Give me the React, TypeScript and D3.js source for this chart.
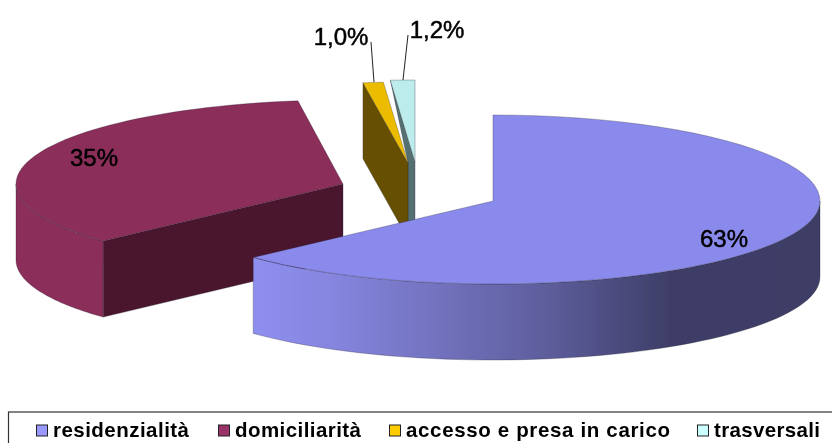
import React, { useEffect, useRef } from "react";
import * as d3 from "d3";

const categories = ["residenzialità", "domiciliarità", "accesso e presa in carico", "trasversali"];
const values = [63.1, 34.7, 1.0, 1.2];
const valueLabels = ["63%", "35%", "1,0%", "1,2%"];
const legendColors = ["#9999FF", "#993366", "#FFCC00", "#CCFFFF"];
const topColors = ["#8A8AEC", "#8B2D5A", "#EBBC00", "#BCECEC"];
const cutColors = ["#3A3A68", "#4A152F", "#665000", "#557070"];

const width = 832;
const height = 443;
const rx = 327;
const depth = 76;
// exploded position of each slice
const centers = [
  { x: 493, y: 201, ryTop: 86, ryBottom: 83 },
  { x: 343, y: 184, ryTop: 84, ryBottom: 84 },
  { x: 408, y: 163, ryTop: 81, ryBottom: 81 },
  { x: 415, y: 162, ryTop: 82, ryBottom: 82 },
];
const labelPos = [
  { x: 724, y: 247 },
  { x: 94, y: 166 },
  { x: 341, y: 45 },
  { x: 437, y: 38 },
];
const leaders = [
  null,
  null,
  [[371, 42], [374, 82]],
  [[408, 35], [403, 80]],
];
const legendX = [36, 218, 389, 697];
const legendTextLen = [136, 126, 264, 106];

const App = () => {
  const ref = useRef<SVGSVGElement>(null);

  useEffect(() => {
    const svg = d3.select(ref.current);
    svg.selectAll("*").remove();

    const arcs = d3.pie<number>().sort(null).value((d) => d)(values);

    const defs = svg.append("defs");
    const grad = defs
      .append("linearGradient")
      .attr("id", "blueWall")
      .attr("gradientUnits", "userSpaceOnUse")
      .attr("x1", 254)
      .attr("x2", 820)
      .attr("y1", 0)
      .attr("y2", 0);
    grad.append("stop").attr("offset", 0).attr("stop-color", "#8E8EEE");
    grad.append("stop").attr("offset", 0.13).attr("stop-color", "#8686E0");
    grad.append("stop").attr("offset", 0.505).attr("stop-color", "#5F5F9F");
    grad.append("stop").attr("offset", 0.735).attr("stop-color", "#3E3E68");
    grad.append("stop").attr("offset", 1).attr("stop-color", "#3E3E66");
    defs
      .append("filter")
      .attr("id", "soft")
      .append("feGaussianBlur")
      .attr("stdDeviation", 0.35);

    const root = svg.append("g").attr("filter", "url(#soft)");

    const line = d3.line<number[]>();
    const point = (i: number, a: number, dy = 0) => {
      const c = Math.cos(a);
      return [centers[i].x + rx * Math.sin(a), centers[i].y - (c > 0 ? centers[i].ryTop : centers[i].ryBottom) * c + dy];
    };
    const sweep = (i: number, a0: number, a1: number, dy = 0) =>
      d3.range(0, 61).map((k) => point(i, a0 + ((a1 - a0) * k) / 60, dy));
    const apex = (i: number, dy = 0) => [centers[i].x, centers[i].y + dy];

    const face = (d: string, fill: string) =>
      root
        .append("path")
        .attr("d", d)
        .attr("fill", fill)
        .attr("stroke", "#20202a")
        .attr("stroke-width", 0.5)
        .attr("stroke-opacity", 0.55);

    // back to front so the blue slice covers the others
    [1, 3, 2, 0].forEach((i) => {
      const { startAngle: a0, endAngle: a1 } = arcs[i];
      const startCut = [point(i, a0), apex(i), apex(i, depth), point(i, a0, depth)];

      if (i === 1) {
        face(line(startCut) + "Z", cutColors[i]);
        const wall = [...sweep(i, a0, 1.5 * Math.PI), ...sweep(i, a0, 1.5 * Math.PI, depth).reverse()];
        face(line(wall) + "Z", topColors[i]);
      } else if (i === 0) {
        const wall = [...sweep(i, Math.PI / 2, a1), ...sweep(i, Math.PI / 2, a1, depth).reverse()];
        face(line(wall) + "Z", "url(#blueWall)");
      } else if (i === 3) {
        // only the sliver next to the yellow slice shows
        const sliver = [point(i, a0), apex(i), apex(i, depth), [centers[2].x, centers[i].y + depth], apex(2)];
        face(line(sliver) + "Z", cutColors[i]);
      } else {
        face(line(startCut) + "Z", cutColors[i]);
      }

      const top = [apex(i), ...sweep(i, a0, a1)];
      face(line(top) + "Z", topColors[i]);
    });

    // data labels
    leaders.forEach((l) => {
      if (!l) return;
      root.append("path").attr("d", line(l)).attr("fill", "none").attr("stroke", "#222").attr("stroke-width", 1);
    });
    root
      .append("g")
      .selectAll("text")
      .data(valueLabels)
      .join("text")
      .attr("x", (_, i) => labelPos[i].x)
      .attr("y", (_, i) => labelPos[i].y)
      .attr("text-anchor", "middle")
      .attr("font-family", "Liberation Sans")
      .attr("font-size", 24)
      .attr("stroke", "#000")
      .attr("stroke-width", 0.5)
      .attr("fill", "#000")
      .text((d) => d);

    // legend
    root
      .append("rect")
      .attr("x", 8.5)
      .attr("y", 412)
      .attr("width", 840)
      .attr("height", 50)
      .attr("fill", "none")
      .attr("stroke", "#333")
      .attr("stroke-width", 1.2);
    const legend = root
      .append("g")
      .selectAll("g")
      .data(categories)
      .join("g")
      .attr("transform", (_, i) => `translate(${legendX[i]},0)`);
    legend
      .append("rect")
      .attr("x", 0.5)
      .attr("y", 425)
      .attr("width", 11)
      .attr("height", 11)
      .attr("fill", (_, i) => legendColors[i])
      .attr("stroke", "#222")
      .attr("stroke-width", 1);
    legend
      .append("text")
      .attr("x", 17)
      .attr("y", 437)
      .attr("font-family", "Liberation Sans")
      .attr("font-weight", "bold")
      .attr("font-size", 20.5)
      .attr("textLength", (_, i) => legendTextLen[i])
      .attr("lengthAdjust", "spacing")
      .attr("fill", "#000")
      .text((d) => d);
  }, []);

  return (
    <svg
      ref={ref}
      width={width}
      height={height}
      style={{ position: "absolute", left: 0, top: 0, background: "#fff" }}
    />
  );
};

export default App;
